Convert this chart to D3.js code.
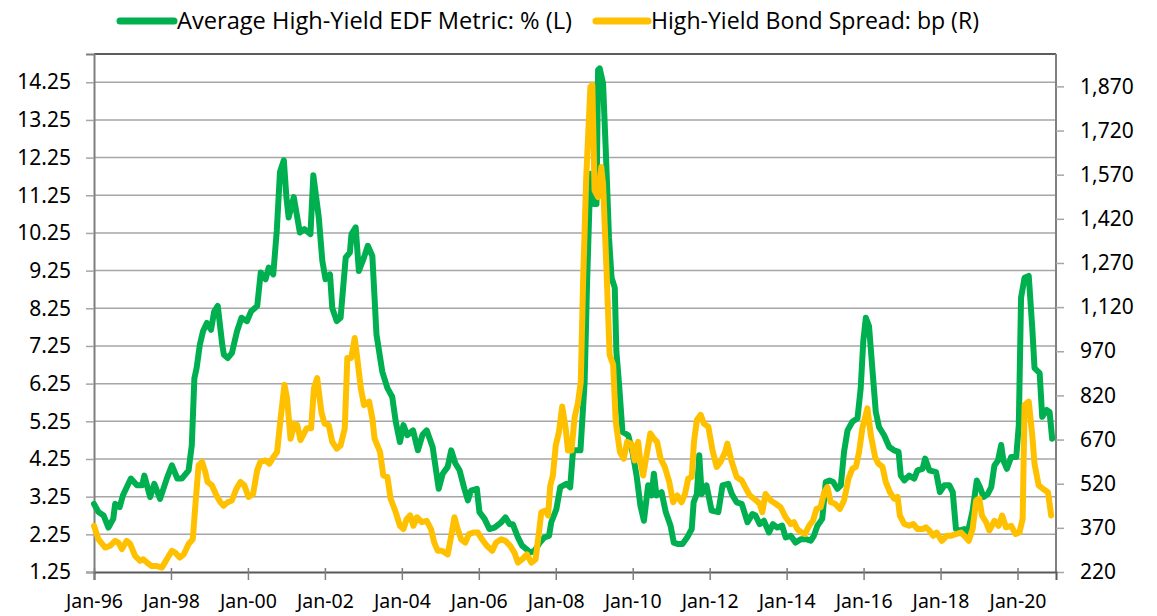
<!DOCTYPE html>
<html>
<head>
<meta charset="utf-8">
<script src="https://cdn.jsdelivr.net/npm/d3@7"></script>
<style>
  html, body { margin: 0; padding: 0; background: #fff; }
  svg { display: block; }
</style>
</head>
<body>
<svg id="chart" width="1157" height="616"></svg>
<script>
// ---- Data (months since Jan-96) ----
const edfMonths = [0,1.4,3,4.5,6,6.6,8,9,11.5,13.4,15,15.7,17.5,18.8,20.6,22.7,24.3,26,27.4,29.5,30.5,31.3,32,33,34,35.2,36.5,37.5,38.6,40,40.5,41.7,43,44.6,46,47.7,49,50.9,52,53.5,54.5,55.9,57,58,59.2,60,60.7,62.3,64.2,65.6,67.5,68.4,70.1,71.2,72.2,73.6,74.3,75.7,76.9,78.5,79.8,80.3,81.6,82.6,84.2,85.4,86.8,88.1,89.9,91.5,93,94.1,95.4,96.5,97.7,99.5,101,102.5,103.75,105.6,107.5,108.75,110.3,111.4,112.7,114,115.5,116.6,117.6,119.4,120.2,121.8,123.3,124.9,127,128.3,129.6,130.6,132.2,133.5,134.8,136,137.4,139,140.5,141.9,142.6,144.2,145.4,147.3,148.5,149.4,151.7,152.5,153,153.75,154.8,155.8,156.7,157.2,157.7,158.75,159.6,160.6,161.4,162.4,162.9,163.75,164.8,166.6,167.9,169.2,170.4,171.5,172.8,173.9,174.6,175.4,177,178.3,179.8,180.8,182.2,183.5,185,186.4,187,188,188.75,189.5,191,192.6,194.7,196,197.8,198.9,200.4,202,203.8,205.3,206.3,207.6,208.9,210.5,211.7,213.1,214.6,215.7,217.25,218.8,220.4,222,223.5,224.5,225.6,227.1,228.2,229.4,230.5,231.8,232.9,233.9,235,236.5,238.1,239.1,239.9,240.7,241.7,242.8,243.8,244.8,246.4,248,249.5,250.9,251.6,252.7,254.2,255.8,256.8,258.4,259.2,260.5,262.6,263.8,265.2,266.75,267.8,268.8,269.9,271.4,272.5,274,275.3,276.3,277.4,278.7,279.8,280.8,281.9,282.9,283.6,284.7,286,287.6,288.4,289.1,290.2,291.5,292.6,293.3,294.9,295.7,297.1,298,298.8];
const edfValues = [3.06,2.84,2.75,2.43,2.66,3.06,2.97,3.28,3.73,3.55,3.55,3.81,3.24,3.59,3.19,3.73,4.08,3.73,3.73,3.95,4.62,6.39,6.66,7.28,7.64,7.86,7.68,8.17,8.31,7.28,7.02,6.93,7.06,7.64,8.0,7.91,8.17,8.31,9.2,9.02,9.33,9.15,10.31,11.87,12.18,11.2,10.66,11.2,10.26,10.35,10.22,11.78,10.66,9.51,9.02,9.15,8.26,7.91,8.0,9.6,9.73,10.22,10.4,9.24,9.6,9.91,9.64,7.55,6.57,6.13,5.9,5.24,4.7,5.15,4.88,5.01,4.48,4.9,5.01,4.57,3.46,3.86,4.04,4.48,4.13,3.95,3.46,3.15,3.41,3.46,2.84,2.66,2.39,2.43,2.57,2.7,2.52,2.52,2.17,1.95,1.86,1.77,1.81,2.03,2.17,2.21,2.57,2.92,3.5,3.59,3.5,4.48,4.48,5.59,6.3,8.88,11.82,11.02,11.02,14.58,14.62,14.22,12.44,10.13,9.06,8.8,7.11,6.22,4.97,4.88,4.44,3.81,3.01,2.61,3.55,3.28,3.86,3.28,3.37,2.84,2.48,2.03,1.99,1.99,2.17,2.39,3.1,3.32,4.35,3.32,3.55,2.88,2.84,3.55,3.59,3.32,3.1,3.06,2.57,2.79,2.75,2.52,2.61,2.3,2.52,2.43,2.48,2.17,2.21,2.03,2.12,2.12,2.08,2.21,2.48,2.66,3.64,3.68,3.64,3.46,3.55,4.44,5.01,5.24,5.33,6.13,7.37,8.0,7.77,6.57,5.5,5.1,4.88,4.57,4.48,4.44,3.81,3.68,3.81,3.73,3.95,3.99,4.26,3.95,3.9,3.37,3.55,3.55,3.37,2.39,2.35,2.39,2.3,2.88,3.68,3.5,3.24,3.32,3.5,4.08,4.21,4.62,4.21,3.99,4.3,4.3,5.15,8.53,9.06,9.11,7.73,6.66,6.53,5.37,5.55,5.5,4.79];

const spreadMonths = [0,1.4,3.5,5,6.6,7.6,8.7,10.2,11.3,12.8,14.4,15.4,16.5,18,19.6,21.2,22.7,24.3,25.3,26.7,28,29.5,30.8,31.6,32.6,33.7,34.7,35.4,36.8,38.2,39.4,40.4,41.7,43,44.4,45.7,46.9,48.2,49.6,50.9,51.9,53.5,54.7,55.9,57.1,58.2,59.4,60.2,61.3,62.5,63.4,64.4,66.3,67.7,68.6,69.6,70.9,71.9,73.2,74.3,75.7,76.9,78.2,79,80.2,81.3,82.1,83.2,84.2,85.8,86.8,87.5,89.2,90.2,91.5,92.5,94.1,95.4,96.5,97.5,98.6,99.6,100.7,102.3,103.75,105.1,106.1,107.2,108.5,110.3,111.4,112.4,113.4,114.5,115.8,116.9,118.3,119.7,121,122.5,124.2,125.4,127,128.3,129.8,131.1,132.2,133.5,135,136.4,137.7,138.75,139.5,140.8,141.6,142.3,143.1,144,145,146,147.1,147.8,148.9,149.9,150.9,151.8,152.5,153.5,154.8,155.4,156.1,157.2,158.2,158.75,159.8,160.8,161.9,162.7,164,165.2,166.25,167.6,168.6,169.7,170.4,171.25,172.5,173.5,174.6,175.6,176.7,178,179.4,180.6,181.9,183.2,184.3,185.3,186.4,187.1,188,189.2,190.2,191.6,192.9,194.2,195.4,196.8,197.5,198.9,200.4,202,203.5,204.5,206.5,207.6,208.4,209.4,211,212.6,214.1,215.7,217.25,218.3,219.3,220.7,221.7,223,224.2,225.3,226.6,227.7,228.7,229.75,231.1,232.6,233.9,235.3,236.5,237.6,238.6,239.6,241.2,242.25,243.6,244.6,245.9,246.9,248.2,249.5,250.6,251.3,252.7,254.2,255.5,256.8,258.4,259.4,260.5,261.7,262.8,264.4,265.9,267.25,268.8,270.4,271.4,272.8,274,275.1,276.1,276.9,278.2,279.2,280.8,282.1,283.2,284.4,286,287.4,288.6,289.6,290.2,291.5,292.6,293.3,294.6,295.9,297.5,298.5];
const spreadValues = [377,331,303,309,326,320,298,326,315,275,258,263,252,240,240,235,263,292,286,269,280,315,331,445,582,594,560,526,514,480,457,445,457,463,503,526,514,475,485,566,594,599,588,610,628,742,856,810,673,724,719,668,708,708,845,879,764,724,719,662,639,650,708,947,947,1015,947,845,787,799,742,673,628,548,543,469,423,377,366,400,412,377,406,389,394,366,320,292,292,280,343,406,366,331,320,349,354,354,331,309,292,320,331,326,309,286,252,263,280,252,263,354,423,429,412,514,548,650,696,782,708,633,633,747,793,866,1197,1561,1869,1875,1517,1494,1596,1538,1254,958,924,731,628,605,662,656,599,662,594,548,628,691,673,662,605,577,526,457,480,457,485,537,543,662,736,754,724,713,633,577,594,628,656,594,543,531,500,480,463,452,423,485,463,452,440,406,383,389,366,354,349,377,394,434,440,491,508,457,452,434,463,537,571,577,628,708,776,685,610,588,577,526,491,469,475,412,383,377,383,366,366,372,361,343,354,326,343,343,349,354,343,326,366,463,469,412,389,361,394,377,412,372,377,349,354,400,787,799,685,588,514,503,491,412];

const xTickMonths = [0,24,48,72,96,120,144,168,192,216,240,264,288];
const xTickLabels = ["Jan-96","Jan-98","Jan-00","Jan-02","Jan-04","Jan-06","Jan-08","Jan-10","Jan-12","Jan-14","Jan-16","Jan-18","Jan-20"];
const leftTicks = [1.25,2.25,3.25,4.25,5.25,6.25,7.25,8.25,9.25,10.25,11.25,12.25,13.25,14.25];
const rightTicks = [220,370,520,670,820,970,1120,1270,1420,1570,1720,1870];
const seriesNames = ["Average High-Yield EDF Metric: % (L)", "High-Yield Bond Spread: bp (R)"];
const seriesColors = ["#00B050", "#FFC000"];

// ---- Layout ----
const L = 94, R = 1056, T = 54, B = 572;
const svg = d3.select("#chart");
const x = d3.scaleLinear().domain([0, 300]).range([L, R]);
const yL = d3.scaleLinear().domain([1.25, 15]).range([B, T]);
const yR = d3.scaleLinear().domain([220, 1980]).range([B, T]);
const fontTick = "'Noto Sans', 'Open Sans', sans-serif";

// gridlines
svg.append("g").selectAll("line").data(leftTicks.slice(1)).join("line")
  .attr("x1", L).attr("x2", R)
  .attr("y1", d => yL(d)).attr("y2", d => yL(d))
  .attr("stroke", "#a6a6a6").attr("stroke-width", 1.5);

// frame top & right
svg.append("line").attr("x1", L).attr("x2", R).attr("y1", T).attr("y2", T)
  .attr("stroke", "#262626").attr("stroke-width", 1.5);
svg.append("line").attr("x1", R).attr("x2", R).attr("y1", T).attr("y2", B)
  .attr("stroke", "#7f7f7f").attr("stroke-width", 2);

// left axis
const gl = svg.append("g").attr("transform", `translate(${L},0)`)
  .call(d3.axisLeft(yL).tickValues(leftTicks).tickFormat(d3.format(".2f")).tickSize(8).tickPadding(15));
gl.select(".domain").attr("stroke", "#7f7f7f").attr("stroke-width", 2);
gl.selectAll(".tick line").attr("stroke", "#a6a6a6").attr("stroke-width", 1.5);
gl.selectAll("text").attr("font-family", fontTick).attr("font-size", 21).attr("fill", "#000");

// right axis
const gr = svg.append("g").attr("transform", `translate(${R},0)`)
  .call(d3.axisRight(yR).tickValues(rightTicks).tickFormat(d3.format(",")).tickSize(8).tickPadding(16));
gr.select(".domain").remove();
gr.selectAll(".tick line").attr("stroke", "#a6a6a6").attr("stroke-width", 1.5);
gr.selectAll("text").attr("font-family", fontTick).attr("font-size", 21).attr("fill", "#000");

// bottom axis
const gb = svg.append("g").attr("transform", `translate(0,${B})`)
  .call(d3.axisBottom(x).tickValues(xTickMonths).tickFormat((d, i) => xTickLabels[i]).tickSize(8).tickPadding(14));
gb.select(".domain").attr("stroke", "#595959").attr("stroke-width", 2);
gb.selectAll(".tick line").attr("stroke", "#7f7f7f").attr("stroke-width", 1.5).attr("y1", -4);
gb.selectAll("text").attr("font-family", fontTick).attr("font-size", 19.5).attr("fill", "#000");

// lines
const edfData = edfMonths.map((m, i) => [m, edfValues[i]]);
const spreadData = spreadMonths.map((m, i) => [m, spreadValues[i]]);
const lineL = d3.line().x(d => x(d[0])).y(d => yL(d[1]));
const lineR = d3.line().x(d => x(d[0])).y(d => yR(d[1]));

svg.append("path").datum(edfData).attr("d", lineL)
  .attr("fill", "none").attr("stroke", seriesColors[0]).attr("stroke-width", 6)
  .attr("stroke-linejoin", "round").attr("stroke-linecap", "round");
svg.append("path").datum(spreadData).attr("d", lineR)
  .attr("fill", "none").attr("stroke", seriesColors[1]).attr("stroke-width", 6)
  .attr("stroke-linejoin", "round").attr("stroke-linecap", "round");

// legend
const legendItems = [
  {x1: 120, x2: 174, tx: 177, len: 395},
  {x1: 596, x2: 648, tx: 651, len: 328}
];
const lg = svg.append("g");
legendItems.forEach((it, i) => {
  lg.append("line").attr("x1", it.x1).attr("x2", it.x2).attr("y1", 21).attr("y2", 21)
    .attr("stroke", seriesColors[i]).attr("stroke-width", 7).attr("stroke-linecap", "round");
  lg.append("text").attr("x", it.tx).attr("y", 29)
    .attr("font-family", "'Liberation Sans Narrow', 'Open Sans', sans-serif")
    .attr("font-size", 23).attr("fill", "#000")
    .attr("textLength", it.len).attr("lengthAdjust", "spacingAndGlyphs")
    .text(seriesNames[i]);
});
</script>
</body>
</html>
